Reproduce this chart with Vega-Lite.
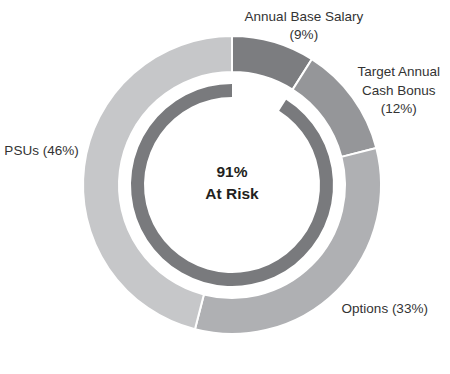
{
  "$schema": "https://vega.github.io/schema/vega-lite/v6.json",
  "width": 436,
  "height": 370,
  "autosize": {"type": "none"},
  "padding": {"left": 14, "top": 0, "right": 0, "bottom": 4},
  "background": "white",
  "config": {"view": {"stroke": null}, "text": {"font": "Liberation Sans"}},
  "datasets": {
    "pay": [
      {"component": "Annual Base Salary", "pct": 9, "rank": 1, "label": "Annual Base Salary\n(9%)"},
      {"component": "Target Annual Cash Bonus", "pct": 12, "rank": 2, "label": "Target Annual\nCash Bonus\n(12%)"},
      {"component": "Options", "pct": 33, "rank": 3, "label": "Options (33%)"},
      {"component": "PSUs", "pct": 46, "rank": 4, "label": "PSUs (46%)"}
    ],
    "risk": [
      {"component": "Fixed", "pct": 9, "rank": 1},
      {"component": "At Risk", "pct": 91, "rank": 2}
    ],
    "center": [{"text": "91%\nAt Risk"}]
  },
  "layer": [
    {
      "data": {"name": "pay"},
      "mark": {"type": "arc", "outerRadius": 149, "innerRadius": 113, "stroke": "white", "strokeWidth": 2},
      "encoding": {
        "theta": {"field": "pct", "type": "quantitative", "stack": true, "scale": {"domain": [0, 100]}},
        "order": {"field": "rank", "type": "quantitative"},
        "color": {
          "field": "component", "type": "nominal", "legend": null,
          "scale": {
            "domain": ["Annual Base Salary", "Target Annual Cash Bonus", "Options", "PSUs", "At Risk", "Fixed"],
            "range": ["#7c7d80", "#959699", "#afb0b3", "#c6c7c9", "#797a7d", "rgba(255,255,255,0)"]
          }
        }
      }
    },
    {
      "data": {"name": "risk"},
      "mark": {"type": "arc", "outerRadius": 101, "innerRadius": 88},
      "encoding": {
        "theta": {"field": "pct", "type": "quantitative", "stack": true},
        "order": {"field": "rank", "type": "quantitative"},
        "color": {"field": "component", "type": "nominal", "legend": null}
      }
    },
    {
      "data": {"name": "pay"},
      "mark": {"type": "text", "radius": 168, "dx": 25, "dy": -7, "fontSize": 13.5, "lineHeight": 18, "lineBreak": "\n", "color": "#333333", "align": "center", "baseline": "middle"},
      "encoding": {
        "theta": {"field": "pct", "type": "quantitative", "stack": true},
        "order": {"field": "rank", "type": "quantitative"},
        "text": {"condition": {"test": "datum.component == 'Annual Base Salary'", "field": "label"}, "value": ""}
      }
    },
    {
      "data": {"name": "pay"},
      "mark": {"type": "text", "radius": 190, "dx": 13, "dy": -1, "fontSize": 13.5, "lineHeight": 18.5, "lineBreak": "\n", "color": "#333333", "align": "center", "baseline": "middle"},
      "encoding": {
        "theta": {"field": "pct", "type": "quantitative", "stack": true},
        "order": {"field": "rank", "type": "quantitative"},
        "text": {"condition": {"test": "datum.component == 'Target Annual Cash Bonus'", "field": "label"}, "value": ""}
      }
    },
    {
      "data": {"name": "pay"},
      "mark": {"type": "text", "radius": 175, "dx": 29, "dy": 0, "fontSize": 13.5, "lineBreak": "\n", "color": "#333333", "align": "center", "baseline": "middle"},
      "encoding": {
        "theta": {"field": "pct", "type": "quantitative", "stack": true},
        "order": {"field": "rank", "type": "quantitative"},
        "text": {"condition": {"test": "datum.component == 'Options'", "field": "label"}, "value": ""}
      }
    },
    {
      "data": {"name": "pay"},
      "mark": {"type": "text", "radius": 192, "dx": 0, "dy": -10, "fontSize": 13.5, "lineBreak": "\n", "color": "#333333", "align": "center", "baseline": "middle"},
      "encoding": {
        "theta": {"field": "pct", "type": "quantitative", "stack": true},
        "order": {"field": "rank", "type": "quantitative"},
        "text": {"condition": {"test": "datum.component == 'PSUs'", "field": "label"}, "value": ""}
      }
    },
    {
      "data": {"name": "center"},
      "mark": {"type": "text", "fontSize": 15.5, "fontWeight": "bold", "lineHeight": 22, "lineBreak": "\n", "color": "#231f20", "align": "center", "baseline": "middle", "dy": -13},
      "encoding": {"text": {"field": "text"}}
    }
  ]
}
